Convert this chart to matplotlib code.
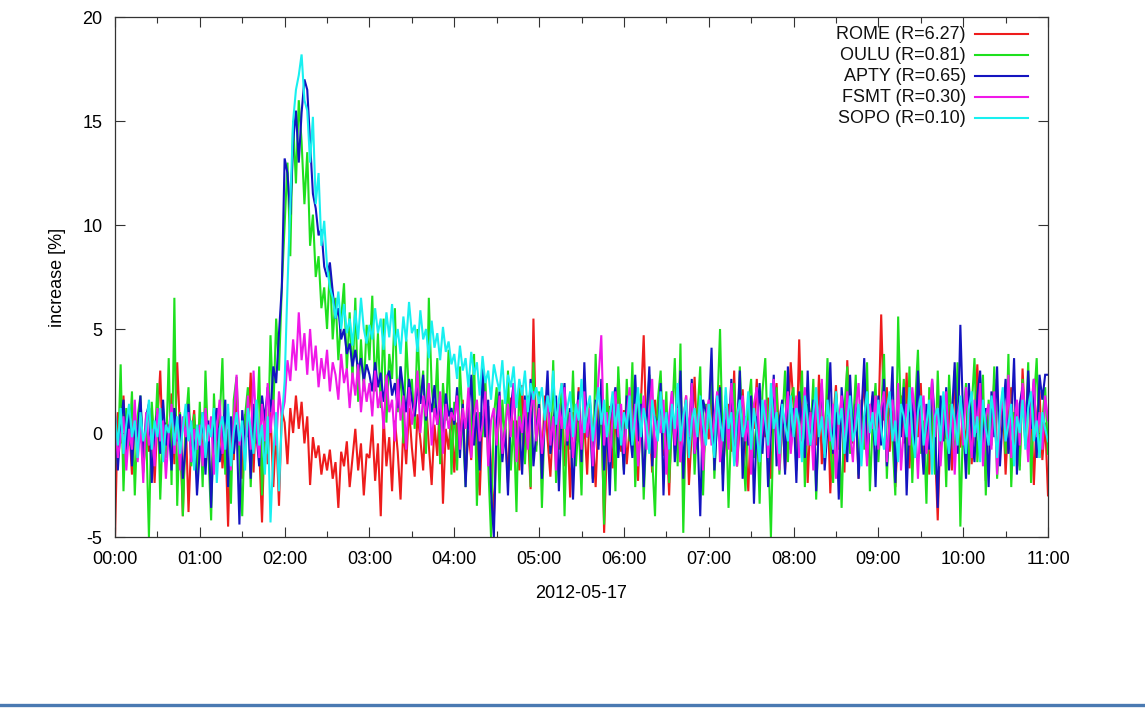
import numpy as np
import pandas as pd
import matplotlib
matplotlib.use("Agg")
import matplotlib.pyplot as plt
import matplotlib.dates as mdates
from matplotlib.lines import Line2D

plt.rcParams['font.family'] = ['Liberation Sans', 'DejaVu Sans']
plt.rcParams['axes.unicode_minus'] = False

START = "2012-05-17 00:00"
STEP_MIN = 2

station_names = ["ROME", "OULU", "APTY", "FSMT", "SOPO"]
station_R = ["6.27", "0.81", "0.65", "0.30", "0.10"]
station_colors = ["#ee1c1c", "#1ee01e", "#1414c0", "#f018e8", "#18f0f0"]

# ---- ROME (2-min values, 00:00 .. 11:00) ----
rome = [
    -5.0, 1.0, -0.5, 1.8, -1.2, 0.4, -2.0, 0.8, -0.6, 1.5,
    -1.8, 0.2, -0.9, 1.2, -2.4, 0.6, 3.0, -1.0, 0.5, -0.3,
    1.9, -1.5, 3.4, 0.1, -4.0, 0.9, -3.8, -0.2, 1.1, -1.4,
    0.3, -1.1, 1.6, -0.8, -2.9, 0.5, -0.4, 1.3, -1.7, 0.0,
    -4.5, 0.7, -1.3, 2.1, -0.6, -2.2, 0.9, -0.2, 2.9, -1.9,
    1.4, -0.7, -4.3, 0.6, -1.5, 1.0, -2.6, 0.2, -3.5, 1.1,
    0.5, -1.5, 1.2, 0.0, 1.8, 0.2, 1.5, -0.5, 0.8, -2.5,
    -0.2, -1.2, -0.6, -2.0, -1.0, -1.8, -0.8, -2.2, -1.4, -3.6,
    -0.9, -1.6, -0.4, -2.6, -1.2, 0.2, -1.8, -0.5, -3.0, -1.0,
    -1.2, 0.4, -2.3, -0.5, -4.0, 0.8, -1.6, -0.2, -2.8, 0.6,
    -0.9, -3.2, 0.3, -1.5, 1.2, -0.7, -2.1, 0.9, -0.3, -1.8,
    1.5, -0.6, -2.5, 0.4, -1.1, 1.8, -3.4, 0.2, -0.8, 1.0,
    -1.9, 0.5, -0.4, 1.6, -2.2, 0.1, -1.3, 2.0, -0.7, -3.0,
    0.8, -0.2, 1.3, -1.6, -4.2, 0.4, 1.1, -0.9, 0.3, -2.4,
    1.7, -0.5, 0.6, -1.8, 2.3, -1.0, 0.2, -2.7, 5.5, -0.6,
    0.9, -1.4, 1.8, -0.3, -2.1, 0.7, 1.2, -0.8, 2.4, -1.6,
    0.3, -3.1, 1.0, -0.4, 2.2, -1.2, 0.5, -2.0, 1.5, -0.1,
    -2.6, 0.8, 1.9, -4.8, -0.5, 1.3, -1.7, 0.4, 2.6, -0.9,
    1.1, -1.5, 0.2, 2.0, -0.7, -2.3, 1.4, 4.7, -0.4, 0.8,
    -1.9, 1.6, -0.2, 2.5, -1.1, 0.3, -3.0, 1.2, -0.6, 2.2,
    -1.4, 0.5, 1.8, -2.5, 0.0, 2.7, -0.8, 1.0, -1.7, 0.6,
    -0.3, 1.9, -1.2, 0.6, 2.3, -2.0, 0.1, 1.4, -0.9, 3.0,
    -1.6, 0.4, 2.1, -0.5, -2.8, 1.1, 0.2, 2.6, -1.3, 0.7,
    -0.2, 1.7, -2.2, 0.9, 2.4, -0.7, 1.2, -1.8, 0.5, 3.4,
    1.3, -1.0, 4.5, -0.4, 2.0, -2.4, 0.8, 1.6, -0.6, 2.8,
    -1.5, 0.3, 1.9, -2.9, 0.6, 2.3, -0.8, 1.0, -1.9, 3.5,
    0.2, -0.5, 1.5, -2.2, 0.9, 2.6, -1.1, 0.4, 1.8, -0.3,
    0.4, 5.7, 0.6, 2.2, -0.9, 1.3, -2.6, 0.2, 1.8, -0.5,
    2.9, -1.7, 0.7, 1.1, -0.2, 2.4, -1.2, 0.5, -2.0, 1.6,
    -0.6, -4.2, 0.5, 0.8, -0.3, 1.4, -1.8, 3.0, 0.1, -0.7,
    1.2, -0.8, 2.0, -1.5, 0.6, 3.3, -0.4, 1.5, -2.3, 0.9,
    -0.1, 2.6, -1.1, 0.3, 1.8, -2.0, 0.7, 2.2, -0.6, 1.0,
    -1.6, 3.1, 0.2, -0.9, 1.4, -2.5, 0.8, 2.0, -1.3, 0.5,
    -3.0,
]

# ---- OULU ----
oulu = [
    0.5, -1.5, 3.3, -2.8, 1.2, -0.6, 2.0, -3.0, 0.8, 1.8,
    -1.9, 0.3, -5.0, 1.5, -0.8, 2.4, -3.2, 0.6, -1.2, 3.6,
    -2.5, 6.5, -3.5, 1.0, -4.0, 0.4, 2.2, -1.6, 0.9, -2.2,
    1.5, -2.6, 3.0, -0.8, -4.2, 1.9, -1.4, 0.5, 3.6, -2.0,
    0.2, -3.4, 1.6, 2.7, -1.1, -4.0, 0.8, 2.2, -2.6, 1.2,
    -0.5, 3.2, -3.0, 0.9, -1.0, 4.7, 1.0, 5.5, 3.0, 7.0,
    10.0, 13.0, 8.5, 15.0, 12.0, 16.0, 14.0, 11.0, 13.5, 9.0,
    10.5, 7.5, 8.5, 6.0, 7.0, 5.0, 8.0, 4.5, 6.5, 3.5,
    5.5, 7.2, 3.0, 5.8, 2.5, 6.5, 1.5, 4.5, 2.0, 5.2,
    3.5, 6.6, 2.0, 4.8, 1.2, 5.5, 0.5, 3.8, 2.6, 6.0,
    1.0, 3.2, -0.5, 4.5, 1.8, 2.6, 0.2, 5.0, 1.4, 3.0,
    -1.0, 6.5, 2.2, 0.8, 3.6, -1.5, 2.4, 0.6, 4.0, -2.0,
    1.5, -1.8, 3.2, 0.4, -2.6, 2.0, -0.6, 3.8, -3.5, 1.0,
    -0.2, 2.6, -1.4, -5.0, 0.8, 2.2, -2.9, 1.6, -0.4, 3.0,
    -1.8, 0.6, -3.8, 2.4, 0.0, -1.5, 1.8, -2.6, 3.4, -0.9,
    2.0, -3.6, 0.8, 1.6, -1.0, 3.5, -2.4, 0.3, 2.2, -4.0,
    1.2, -0.8, 3.0, -1.6, 0.6, -3.0, 2.6, -0.2, 1.4, -2.2,
    3.8, -0.6, 0.9, -4.4, 2.4, -1.2, 1.0, -2.8, 3.2, 0.2,
    -1.8, 2.6, -0.4, 3.4, -2.6, 0.8, 1.9, -3.2, 0.4, 2.8,
    -1.2, -4.0, 1.6, 3.0, -0.8, 2.0, -2.4, 0.6, 3.6, -1.6,
    4.3, -4.8, 1.2, -0.2, 2.4, -2.0, 0.9, 3.2, -3.0, 1.4,
    0.2, 2.8, -2.2, 1.0, 5.0, -1.0, 1.8, -3.6, 0.6, 2.4,
    -1.6, 3.2, -0.4, -2.8, 1.4, 2.6, -1.2, 0.8, -3.4, 2.0,
    3.6, -0.6, -5.0, 1.2, 2.2, -2.0, 0.4, 3.0, -1.4, 1.6,
    2.2, -1.8, 0.6, 3.0, -2.6, 1.4, -0.2, 2.6, -3.2, 0.8,
    1.8, -1.2, 3.6, -0.6, -2.4, 2.0, 0.4, -3.6, 1.2, 3.2,
    -1.0, 0.2, 2.8, -2.0, 1.6, -0.8, 3.4, -2.8, 0.6, 2.4,
    -1.4, 1.0, 3.8, -2.2, 1.2, -0.4, -3.0, 5.6, 0.4, 2.6,
    -1.6, 3.2, -2.4, 1.4, 4.0, -1.0, 0.6, -3.4, 2.2, 1.0,
    -2.0, 3.0, -0.8, 1.6, -2.6, 2.8, 0.2, -1.2, 3.4, -4.5,
    0.8, 2.4, -2.0, 1.2, 3.6, -1.4, 0.4, 2.8, -3.0, 1.6,
    -0.6, 3.2, -2.2, 0.6, 2.0, -1.0, 3.8, -2.6, 1.0, 0.2,
    -1.8, 2.6, -0.4, 3.4, -2.4, 1.4, 3.6, -1.2, 0.6, 2.2,
    -1.0,
]

# ---- APTY ----
apty = [
    1.0, -1.8, 0.4, 1.6, -0.8, 1.2, -1.6, 0.6, -0.2, 1.8,
    -1.2, 0.8, 1.4, -2.4, 0.2, 1.0, -1.0, 1.6, -0.6, 0.4,
    -1.8, 1.2, -0.4, 0.9, -2.2, -0.6, 1.4, -1.4, 0.2, -3.0,
    -0.8, 1.0, -2.0, 0.6, -3.6, 0.2, 1.2, -1.4, -0.4, 1.6,
    -2.6, 0.8, -1.0, 0.4, -4.4, 1.1, -0.6, 0.8, -2.2, 1.4,
    0.0, -1.6, 1.8, 0.6, 2.2, 1.0, 3.2, 2.4, 4.8, 7.0,
    13.2, 12.5, 10.5, 14.0, 15.5, 13.0, 15.4, 17.0, 16.5, 14.0,
    11.5, 10.8, 9.5, 9.8, 8.0, 7.5, 8.2, 6.8, 5.5, 6.0,
    4.5, 5.0, 3.8, 4.3, 3.2, 4.0, 3.0, 3.6, 2.5, 3.3,
    2.8, 2.0, 3.4, 2.2, 2.9, 1.5, 2.6, 3.0, 1.8, 2.4,
    1.2, 3.2, 2.0, 1.0, 2.6, 1.6, 0.8, 2.2, 1.4, 2.8,
    0.6, 1.8, 1.0, 2.3, 0.4, 1.5, -0.5, 1.9, 0.8, 1.2,
    0.4, 2.2, -1.2, 1.4, -2.6, 0.8, 2.8, -0.6, 1.0, -1.8,
    3.2, -0.2, 1.6, -2.8, -5.0, 0.6, 2.0, -1.4, 0.2, -3.0,
    1.2, 2.4, -0.8, 0.4, -2.0, 1.8, -0.4, 2.6, -1.6, 0.0,
    1.4, -2.2, 0.6, 3.0, -1.0, 0.2, 1.8, -2.8, 0.8, 2.4,
    -0.6, 1.2, -3.2, 0.4, 2.0, -1.4, 3.4, -0.2, 0.9, -2.4,
    1.6, -0.8, 2.6, -1.8, 0.5, -3.0, 1.4, 2.2, -1.2, 0.6,
    -2.0, 1.8, 0.2, -1.2, 2.8, -0.4, 1.4, -2.6, 0.6, 3.2,
    -1.6, 0.8, -0.2, 2.4, -3.0, 1.0, -0.8, 2.0, -1.4, 0.4,
    3.0, -2.2, 1.2, -0.6, 2.6, -1.0, 0.2, -4.0, 1.6, 1.0,
    0.8, 4.1, -1.8, 0.6, 2.2, -2.8, 1.2, -0.4, 2.6, -1.4,
    0.2, 3.0, -2.2, 0.8, -0.6, 1.8, -3.4, 0.4, 2.4, -1.0,
    1.4, -2.6, 0.0, 2.8, -1.6, 0.6, 1.6, -2.0, 3.2, -0.8,
    1.2, -2.4, 2.0, 0.2, -1.2, 3.0, -0.6, 1.6, -2.8, 0.6,
    2.4, -1.8, 0.2, 3.4, -1.0, 1.0, -3.2, 2.2, 0.4, -1.4,
    2.8, -0.2, 1.4, -2.2, 0.8, 3.6, -1.2, 0.4, 2.0, -2.6,
    1.8, -0.6, 2.6, -1.6, 0.4, 3.2, -2.4, 1.2, -0.2, 2.2,
    -3.0, 0.8, 1.6, -1.2, 3.0, 0.2, -2.0, 1.4, -0.8, 2.6,
    0.6, -3.6, 1.8, -0.4, 2.2, -1.8, 0.8, 3.4, -1.0, 5.2,
    0.6, -2.2, 2.4, 0.0, -1.4, 1.8, 3.0, -0.8, 1.2, -2.6,
    2.0, -0.2, 3.2, -1.6, 0.8, 2.6, -1.0, 0.4, 3.6, -2.0,
    1.4, 2.2, -0.6, 3.0, 0.2, 2.6, -1.2, 2.8, 1.6, 2.8,
    2.8,
]

# ---- FSMT ----
fsmt = [
    0.6, -1.2, -0.2, 0.8, -1.8, 0.2, -0.8, 1.6, -1.4, 0.4,
    -2.4, 1.0, -0.6, 0.2, -1.6, 1.2, -0.4, 0.6, -2.2, 0.0,
    1.4, -1.0, 0.4, -1.8, 0.8, -0.2, 1.0, -1.4, 0.2, -0.8,
    0.4, -1.6, 1.2, -0.4, 0.8, -2.0, 0.2, 1.6, -1.0, -0.2,
    1.0, -1.8, 0.6, 2.8, -0.6, 0.4, -1.4, 1.8, -0.8, 3.0,
    0.2, -1.2, 1.4, -0.4, 2.4, 0.0, 1.6, -0.6, 2.0, 0.8,
    1.5, 3.5, 2.5, 4.5, 3.0, 5.8, 3.5, 4.8, 2.8, 5.0,
    3.0, 4.2, 2.2, 3.6, 2.6, 4.0, 2.0, 3.4, 2.8, 1.6,
    3.8, 2.4, 3.1, 1.2, 2.9, 1.8, 3.3, 1.0, 2.6, 1.5,
    2.4, 0.8, 3.0, 1.2, 2.0, 0.2, 2.8, 1.0, 1.6, -0.4,
    2.6, 0.6, 1.8, -0.8, 2.2, 0.4, 1.4, 3.0, 0.0, 1.8,
    0.8, 2.4, -0.6, 1.2, 0.4, 2.0, -1.0, 1.4, 0.2, 1.0,
    0.6, 1.8, -0.8, 1.2, 0.2, 2.2, -1.2, 0.8, 1.6, -0.4,
    0.4, 2.0, -1.6, 0.6, 1.2, -0.6, 1.8, -1.0, 0.2, 1.4,
    -0.2, 2.4, -1.4, 0.8, 0.0, 1.6, -0.8, 1.0, 2.0, -0.4,
    1.2, -1.0, 0.4, 1.8, -0.6, 0.8, -1.8, 1.4, 0.2, 2.2,
    -0.4, 1.0, -1.2, 0.6, 1.6, -0.8, 2.0, -0.2, 1.2, -1.6,
    0.4, 2.6, 4.7, -0.6, 1.0, -1.4, 0.8, 2.0, -0.2, 1.4,
    -1.0, 0.8, 2.2, -0.4, 1.4, -1.6, 0.2, 1.8, -0.8, 1.0,
    2.6, -1.2, 0.6, 0.0, 1.6, -2.0, 0.8, 2.0, -0.6, 1.2,
    -1.4, 0.4, 1.8, -0.2, 2.4, -1.0, 0.6, 1.4, -1.8, 0.8,
    1.6, -0.6, 0.8, 2.0, -1.4, 0.2, 1.2, -0.8, 2.4, 0.4,
    -1.6, 1.0, 1.8, -0.4, 0.6, -2.0, 1.4, 2.2, -0.8, 0.2,
    1.6, -1.2, 0.8, 2.6, -0.2, -1.8, 1.2, 0.4, 2.0, -1.0,
    0.6, 1.8, -1.2, 0.4, 2.2, -0.6, 1.0, -1.8, 1.6, 0.2,
    2.6, -1.0, 0.8, -0.4, 1.4, -2.2, 0.6, 1.8, -0.8, 2.0,
    0.0, -1.4, 1.2, 2.4, -0.6, 0.8, -1.6, 1.4, 0.2, 1.8,
    -0.8, 1.2, 2.0, -1.4, 0.6, 1.6, -0.4, 2.4, -1.8, 0.2,
    1.4, -0.6, 2.2, 0.8, -2.2, 1.0, 1.8, -1.0, 0.4, 2.6,
    -0.2, 1.2, -1.6, 0.6, 2.0, -0.8, 1.4, -2.0, 0.8, 1.6,
    -0.6, 2.2, 0.4, -1.2, 1.6, 0.0, 2.4, -1.6, 0.8, 1.4,
    -0.8, 2.0, -2.0, 0.6, 1.8, -0.4, 2.8, -1.2, 0.2, 1.6,
    -0.6, 2.4, 0.8, -1.4, 1.2, 2.6, -0.2, 1.0, -0.8, 1.8,
    0.6,
]

# ---- SOPO ----
sopo = [
    0.8, -0.6, 1.2, -1.0, 0.4, 1.4, -0.2, 0.6, -1.2, 1.0,
    -0.4, 0.2, 1.6, -0.8, 0.6, -0.2, 1.2, -1.4, 0.4, 0.0,
    1.0, -0.6, 0.8, -1.0, 0.2, 1.4, -0.4, 0.6, -1.8, 0.4,
    -0.6, 1.0, -1.2, 0.4, -0.2, 1.2, -2.4, 0.2, 0.8, -0.8,
    1.4, -1.6, 0.0, 1.0, -0.4, 0.6, -1.8, 1.2, 0.2, -1.0,
    1.6, -0.6, 0.4, -2.0, 0.8, -4.3, -1.0, 1.0, -2.8, 0.6,
    2.5, 7.0, 11.0, 15.0, 16.5, 17.2, 18.2, 16.0, 15.5, 13.0,
    15.2, 11.0, 12.5, 9.0, 10.2, 8.0, 7.0, 6.5, 5.5, 6.8,
    5.0, 6.2, 4.8, 5.5, 4.2, 5.9, 4.5, 6.5, 5.0, 4.3,
    5.2, 4.5, 6.0, 4.8, 5.5, 4.0, 5.8, 4.6, 6.2, 4.2,
    5.0, 3.8, 5.6, 4.4, 6.3, 4.8, 5.2, 3.9, 5.9, 4.5,
    5.0, 3.6, 5.4, 4.1, 4.8, 3.5, 5.1, 3.9, 4.4, 3.3,
    3.8, 2.6, 4.2, 3.0, 3.6, 2.2, 3.9, 2.8, 3.4, 1.8,
    3.7, 2.4, 3.0, 1.6, 3.3, 2.6, 2.0, 3.5, 1.4, 2.8,
    2.2, 3.2, 1.2, 2.6, 1.8, 3.0, 1.0, 2.4, 1.6, 2.2,
    1.4, 2.2, 0.6, 1.8, 1.0, 3.0, 0.4, 1.6, 2.4, 0.2,
    1.2, 2.0, -0.2, 1.4, 0.6, 2.6, 0.0, 1.2, 1.8, -0.4,
    1.0, 2.2, 0.4, 1.6, -0.2, 0.8, 2.0, 0.2, 1.4, -0.6,
    1.0, 0.2, 1.8, -0.6, 0.8, 2.2, -0.2, 1.2, 0.4, -1.0,
    1.6, 0.6, -0.4, 2.0, 0.0, 1.0, -0.8, 1.4, 0.2, 2.4,
    -0.4, 0.8, 1.6, -1.2, 0.6, 1.2, -0.2, 1.8, 0.4, -0.6,
    1.4, 0.0, -1.2, 1.8, 0.6, -0.4, 2.2, 0.2, 1.0, -1.6,
    0.8, 1.6, -0.2, 0.4, 2.0, -0.8, 1.2, 0.0, -1.4, 1.6,
    0.6, -0.6, 2.4, 0.2, 1.0, -1.0, 1.4, 0.4, -0.4, 1.8,
    -0.2, 1.2, 0.4, -1.4, 1.8, 0.6, -0.6, 1.0, 2.2, -0.2,
    0.8, -1.2, 1.6, 0.2, -0.8, 2.0, 0.4, 1.2, -1.0, 0.6,
    1.8, -0.4, 0.2, 1.4, -1.6, 0.8, 2.0, 0.0, 1.0, -0.6,
    1.6, 0.2, -0.8, 1.2, 2.0, -0.4, 0.6, -1.4, 1.4, 0.8,
    -0.2, 2.2, 0.0, -1.2, 1.0, 1.8, -0.6, 0.4, 1.6, -2.0,
    0.8, 1.2, -0.4, 2.0, 0.2, -1.0, 1.4, 0.6, -0.6, 1.8,
    0.4, -1.0, 1.2, 2.0, -0.2, 0.8, -1.4, 1.6, 0.2, -0.6,
    1.8, 0.6, -1.2, 1.0, 2.2, -0.4, 0.4, 1.4, -1.6, 0.8,
    0.0, 1.6, -0.8, 1.2, 2.0, -0.4, 0.6, -1.2, 1.0, 0.2,
    -0.4,
]

series = [rome, oulu, apty, fsmt, sopo]

x_tick_hours = list(range(0, 12))
y_ticks = [-5, 0, 5, 10, 15, 20]

FS = 13

fig = plt.figure(figsize=(11.45, 7.2), dpi=100)
ax = fig.add_axes([115 / 1145, 1 - 537 / 720, (1048 - 115) / 1145, (537 - 17) / 720])

start = pd.Timestamp(START)
for vals, col in zip(series, station_colors):
    t = start + pd.to_timedelta(np.arange(len(vals)) * STEP_MIN, unit="min")
    ax.plot(t.to_pydatetime(), vals, color=col, lw=1.5, solid_joinstyle="miter")

ax.set_xlim(start.to_pydatetime(), (start + pd.Timedelta(hours=11)).to_pydatetime())
ax.set_ylim(-5, 20)
ax.set_yticks(y_ticks)
ax.set_xticks([(start + pd.Timedelta(hours=h)).to_pydatetime() for h in x_tick_hours])
ax.set_xticks([(start + pd.Timedelta(minutes=30 + 60 * h)).to_pydatetime() for h in range(11)], minor=True)
ax.xaxis.set_major_formatter(mdates.DateFormatter("%H:%M"))

ax.tick_params(which="major", direction="in", length=7, width=0.8, top=True, right=True,
               labelsize=FS, color="#333333")
ax.tick_params(which="minor", direction="in", length=4, width=0.8, top=True, right=True,
               color="#333333")
ax.tick_params(axis="x", which="major", pad=10)
ax.tick_params(axis="y", which="major", pad=9)
for sp in ax.spines.values():
    sp.set_linewidth(0.9)
    sp.set_color("#333333")

ax.set_ylabel("increase [%]", fontsize=FS, labelpad=12)
ax.set_xlabel("2012-05-17", fontsize=FS, labelpad=12)

# gnuplot-style key: right-aligned text followed by line sample
for i, (nm, r, col) in enumerate(zip(station_names, station_R, station_colors)):
    yk = 0.967 - i * 0.0404
    ax.text(0.912, yk, f"{nm} (R={r})", transform=ax.transAxes, ha="right", va="center",
            fontsize=FS, color="#111111")
    ax.add_line(Line2D([0.922, 0.9786], [yk, yk], transform=ax.transAxes, color=col, lw=1.5))

# blue rule at the bottom of the page
fig.add_artist(Line2D([0, 1], [1 - 705 / 720, 1 - 705 / 720], transform=fig.transFigure,
                      color="#4a7ab2", lw=2.4))

fig.savefig("out.png", dpi=100)
